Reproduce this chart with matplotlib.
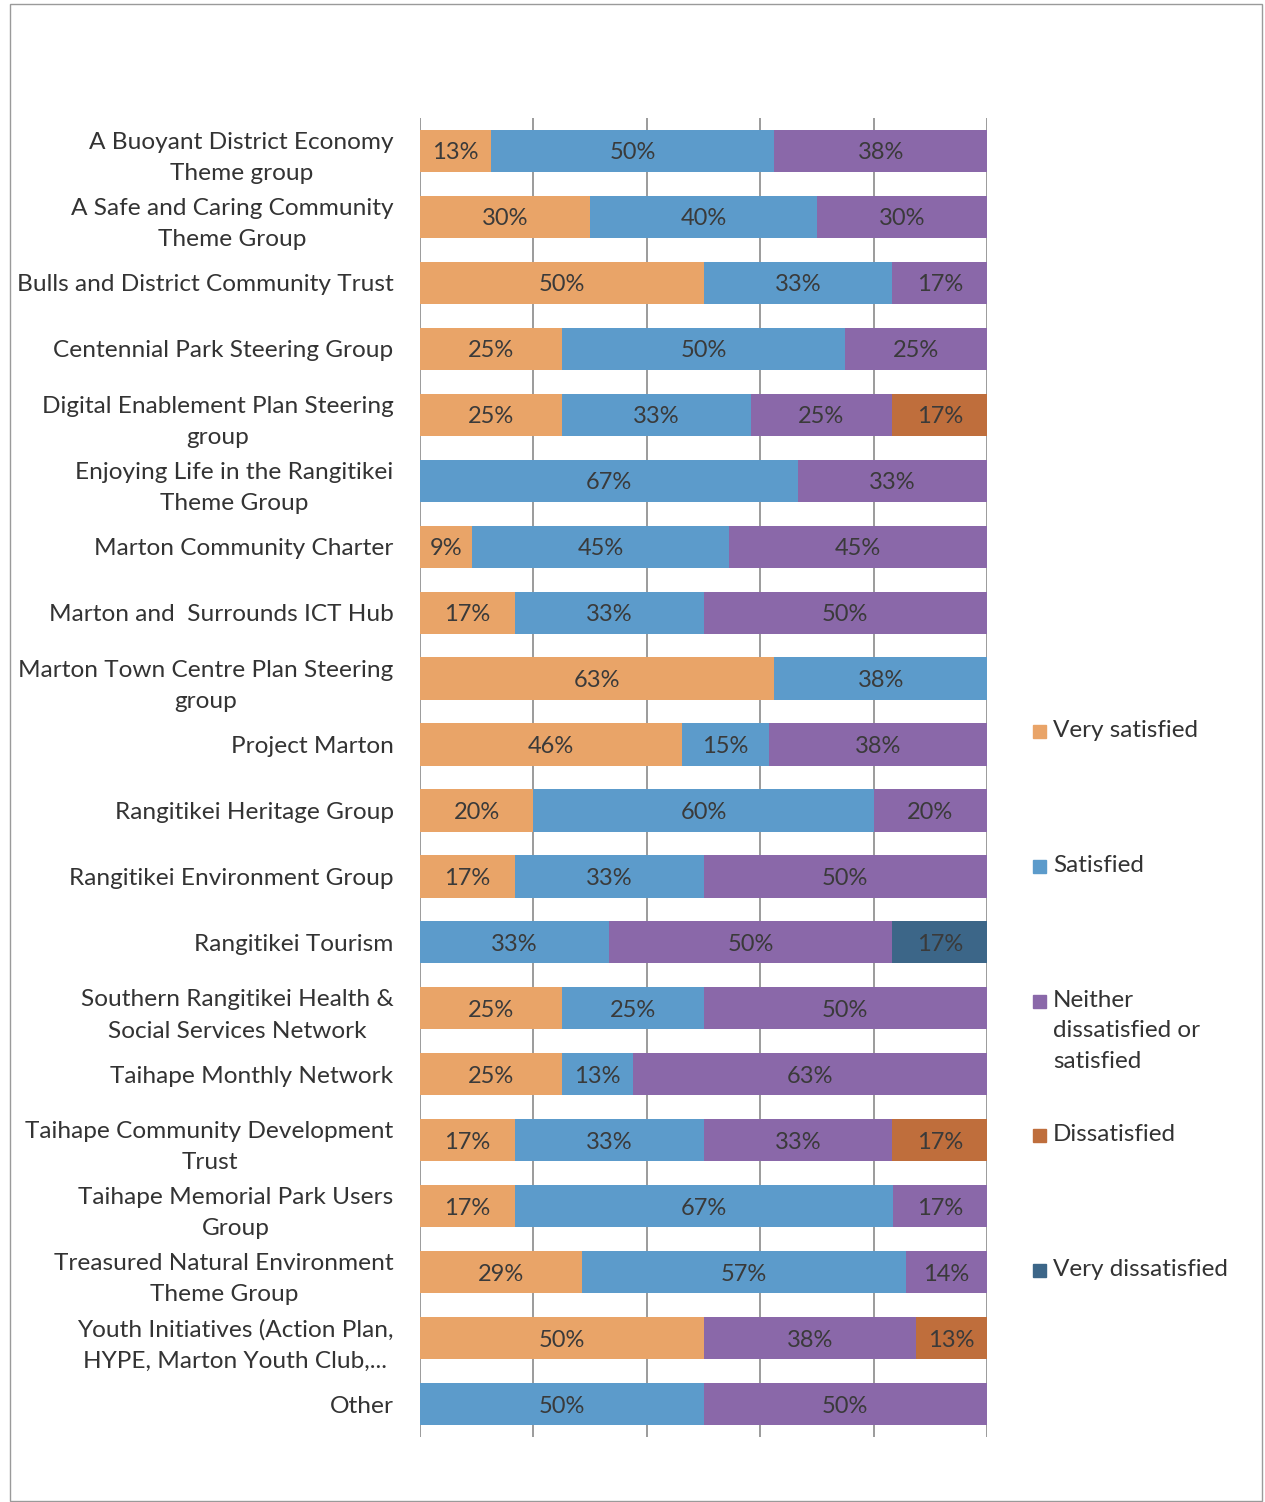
import numpy as np
import matplotlib.pyplot as plt
from matplotlib.patches import Rectangle

plt.rcParams['font.family'] = ['Lato', 'DejaVu Sans']

#%% Data (percent of respondents per group)
groups = [
    "A Buoyant District Economy\nTheme group",
    "A Safe and Caring Community\nTheme Group",
    "Bulls and District Community Trust",
    "Centennial Park Steering Group",
    "Digital Enablement Plan Steering\ngroup",
    "Enjoying Life in the Rangitikei\nTheme Group",
    "Marton Community Charter",
    "Marton and  Surrounds ICT Hub",
    "Marton Town Centre Plan Steering\ngroup",
    "Project Marton",
    "Rangitikei Heritage Group",
    "Rangitikei Environment Group",
    "Rangitikei Tourism",
    "Southern Rangitikei Health &\nSocial Services Network",
    "Taihape Monthly Network",
    "Taihape Community Development\nTrust",
    "Taihape Memorial Park Users\nGroup",
    "Treasured Natural Environment\nTheme Group",
    "Youth Initiatives (Action Plan,\nHYPE, Marton Youth Club,...",
    "Other",
]
very_satisfied = [12.5, 30, 50, 25, 25, 0, 9.1, 16.7, 62.5, 46.15, 20, 16.7, 0, 25, 25, 16.7, 16.7, 28.6, 50, 0]
satisfied = [50, 40, 33.3, 50, 33.3, 66.7, 45.45, 33.3, 37.5, 15.38, 60, 33.3, 33.3, 25, 12.5, 33.3, 66.7, 57.1, 0, 50]
neither = [37.5, 30, 16.7, 25, 25, 33.3, 45.45, 50, 0, 38.46, 20, 50, 50, 50, 62.5, 33.3, 16.7, 14.3, 37.5, 50]
dissatisfied = [0, 0, 0, 0, 16.7, 0, 0, 0, 0, 0, 0, 0, 0, 0, 0, 16.7, 0, 0, 12.5, 0]
very_dissatisfied = [0, 0, 0, 0, 0, 0, 0, 0, 0, 0, 0, 0, 16.7, 0, 0, 0, 0, 0, 0, 0]

series_names = ["Very satisfied", "Satisfied", "Neither\ndissatisfied or\nsatisfied",
                "Dissatisfied", "Very dissatisfied"]
series_vals = [very_satisfied, satisfied, neither, dissatisfied, very_dissatisfied]
colors = ['#E9A468', '#5C9BCB', '#8A68A9', '#BF6E3C', '#3C6688']

#%% Plot
fig = plt.figure(figsize=(12.65, 15.02), dpi=100)
ax = fig.add_axes([420/1265, 1-1437/1502, 567/1265, 1319/1502])

y = np.arange(len(groups))
left = np.zeros(len(groups))
for name, vals, col in zip(series_names, series_vals, colors):
    vals = np.array(vals, dtype=float)
    ax.barh(y, vals, left=left, height=0.64, color=col, zorder=3)
    for yi, l, v in zip(y, left, vals):
        if v > 0:
            ax.text(l + v/2, yi, f"{int(v+0.5)}%", ha='center', va='center_baseline',
                    fontsize=17, color='#3a3a3a', zorder=4)
    left += vals

ax.set_xlim(0, 100)
ax.set_ylim(len(groups)-0.5, -0.5)
ax.set_xticks([0, 20, 40, 60, 80, 100])
ax.set_xticklabels([])
ax.grid(axis='x', color='#8a8a8a', linewidth=1.2, zorder=0)
ax.tick_params(length=0)
ax.set_yticks(y)
ax.set_yticklabels(groups, fontsize=17.6, color='#333333', multialignment='center',
                   linespacing=1.6)
ax.tick_params(axis='y', pad=19)
for s in ax.spines.values():
    s.set_visible(False)

# legend drawn at right, one entry per series
leg_y = [731, 866, 1001, 1135, 1270]
for name, col, yy in zip(series_names, colors, leg_y):
    fig.patches.append(Rectangle((1033/1265, 1-(yy+7)/1502), 13/1265, 13/1502,
                                 transform=fig.transFigure, color=col))
    fig.text(1053/1265, 1-(yy-11)/1502, name, fontsize=17.5, color='#333333',
             va='top', ha='left', linespacing=1.55)

# outer frame
fig.patches.append(Rectangle((10/1265, 1/1502), 1252/1265, 1497/1502, transform=fig.transFigure,
                             fill=False, edgecolor='#9a9a9a', linewidth=1))

fig.savefig('out.png', dpi=100)
